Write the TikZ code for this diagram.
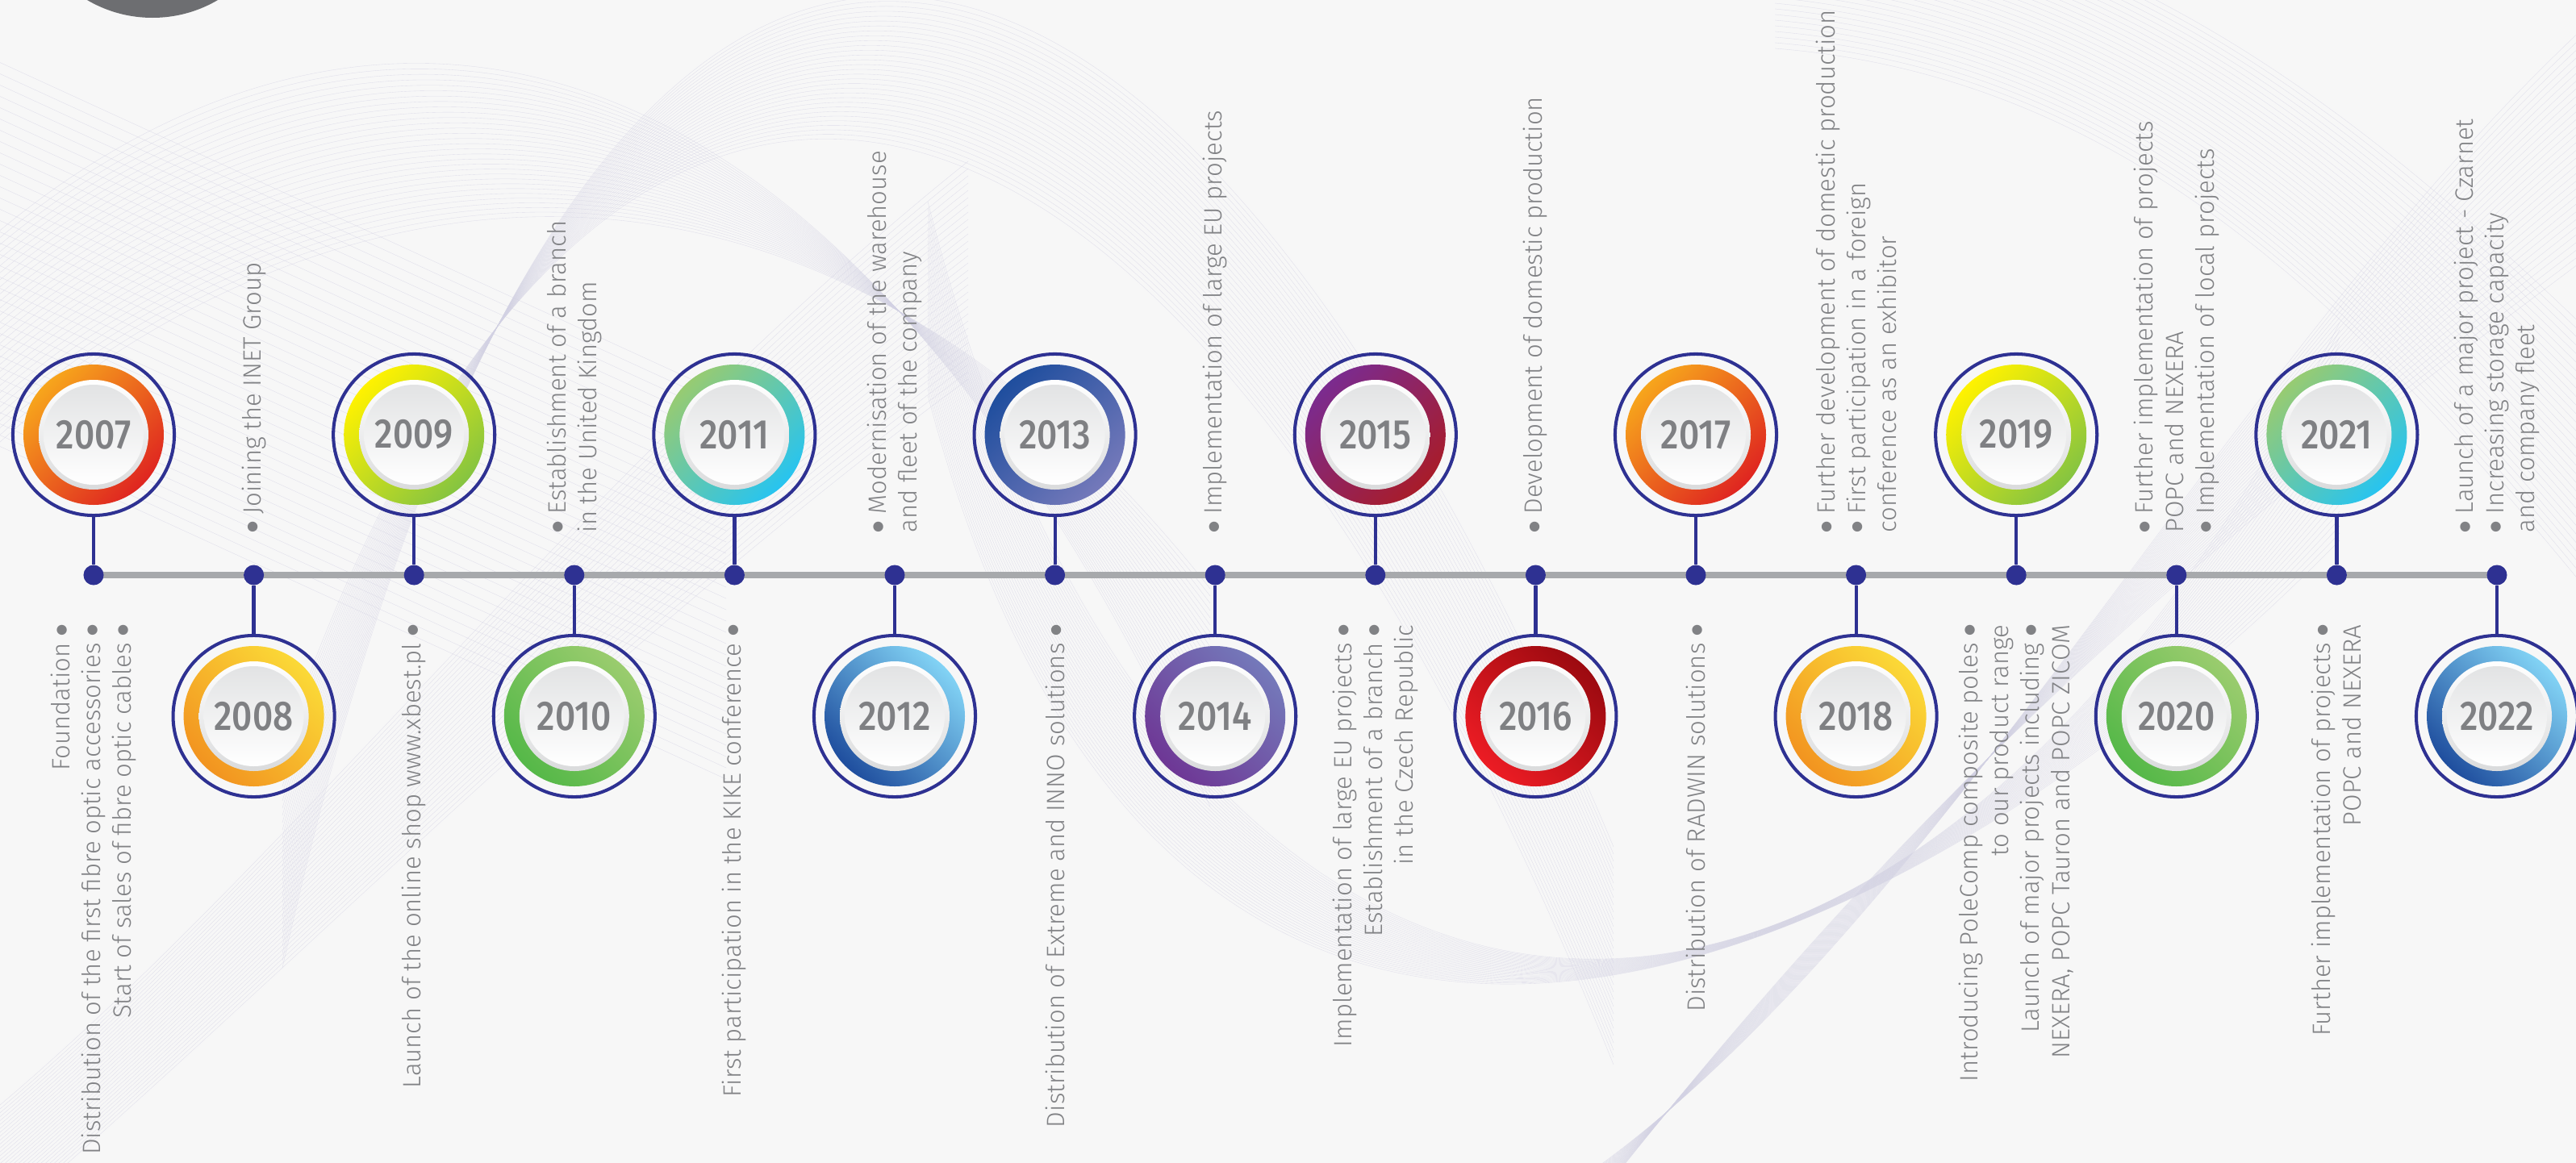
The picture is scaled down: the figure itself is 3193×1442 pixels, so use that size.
\documentclass[tikz,border=0pt]{standalone}
\usepackage{fontspec}
\setmainfont{Fira Sans Light}
\newfontfamily\yearfont{Fira Sans Medium}
\newfontfamily\symfont{DejaVu Sans}
\usepackage{graphicx}
\pgfdeclarelayer{back}
\pgfdeclarelayer{mid}
\pgfsetlayers{back,mid,main}

\definecolor{navy}{HTML}{2E3192}
\definecolor{linegray}{HTML}{A7A9AC}
\definecolor{txtgray}{HTML}{818285}
\definecolor{yeargray}{HTML}{7F8083}
\definecolor{bgc}{HTML}{F7F7F7}
\definecolor{wavec}{HTML}{D2D1E3}
\definecolor{knobc}{HTML}{6D6E71}
\definecolor{bevB}{HTML}{DADBDC}
\definecolor{bevT}{HTML}{E2E3E4}
% ring colours
\definecolor{orA}{HTML}{F7A51C}\definecolor{orB}{HTML}{DF2520}
\definecolor{yoA}{HTML}{FBD937}\definecolor{yoB}{HTML}{F29420}
\definecolor{ygA}{HTML}{FFF200}\definecolor{ygB}{HTML}{85C441}
\definecolor{grA}{HTML}{9ACC6E}\definecolor{grB}{HTML}{55B848}
\definecolor{gcA}{HTML}{97CB72}\definecolor{gcB}{HTML}{27C4F0}
\definecolor{lbA}{HTML}{82D3F5}\definecolor{lbB}{HTML}{1F4E9E}
\definecolor{dbA}{HTML}{1F4E9E}\definecolor{dbB}{HTML}{7479BA}
\definecolor{puA}{HTML}{7479BA}\definecolor{puB}{HTML}{6E3795}
\definecolor{prA}{HTML}{7B2B8F}\definecolor{prB}{HTML}{A81C2A}
\definecolor{rdA}{HTML}{9C0A10}\definecolor{rdB}{HTML}{EC1C24}

\newcommand{\bul}{\raisebox{0.35ex}{\symfont\fontsize{4.6}{5}\selectfont ●}}

\tikzset{
  x=0.01cm, y=-0.01cm,
  tdot/.style={circle, fill=navy, inner sep=0pt, minimum size=0.25cm},
  msring/.style={circle, draw=navy, line width=1.15pt, minimum size=2cm, inner sep=0pt, outer sep=0pt},
  msstem/.style={navy, line width=1.2pt},
  tline/.style={draw=linegray, line width=2pt},
  yearlbl/.style={font=\yearfont\fontsize{14.6}{15}\selectfont, text=yeargray, inner sep=0pt},
  textup/.style={rotate=90, anchor=west, align=left, inner sep=0pt, font=\fontsize{8.85}{10.8}\selectfont, text=txtgray},
  textdown/.style={rotate=90, anchor=east, align=right, inner sep=0pt, font=\fontsize{8.85}{10.8}\selectfont, text=txtgray},
  wave/.style={draw=wavec, line width=0.1pt, opacity=0.65},
}

% #1 year, #2 x, #3 circle centre y, #4 colour A, #5 colour B, #6 shading angle
\newcommand{\milestone}[6]{%
  \node[tdot] (d#1) at (#2,713) {};
  \shade[top color=#4, bottom color=#5, shading angle=#6] (#2,#3) circle[radius=87];
  \shade[top color=white, bottom color=bevB] (#2,#3) circle[radius=68];
  \shade[top color=bevT, bottom color=white] (#2,#3) circle[radius=62];
  \node[msring] (c#1) at (#2,#3) {};
  \node[yearlbl] (y#1) at (c#1.center) {\scalebox{0.86}[1]{#1}};
  \draw[msstem] (c#1) -- (d#1);
}

\begin{document}
\begin{tikzpicture}
\useasboundingbox (0,0) rectangle (3193,1442);

\begin{pgfonlayer}{back}
\fill[bgc] (0,0) rectangle (3193,1442);
\begin{scope}
\clip (0,0) rectangle (3193,1442);
\foreach \t in {0,...,34}{
  \draw[wave] (-300,-60+14*\t) -- (900,490+14*\t);
}
\foreach \t in {0,...,30}{
  \draw[wave] (-100,380+9*\t) .. controls (200,60+8*\t) and (900,-300+9*\t) .. (1500,1000-9*\t);
  \draw[wave] (350,1200-9*\t) .. controls (700,-380+9*\t) and (1400,-380+7*\t) .. (2000,1050+9*\t);
  \draw[wave] (1150,250+8*\t) .. controls (1450,1450+6*\t) and (2350,1500-9*\t) .. (2900,400+9*\t);
  \draw[wave] (1900,1500+3*\t) .. controls (2400,1200-9*\t) and (2800,350+9*\t) .. (3300,-50+10*\t);
  \draw[wave] (2200,-150+7*\t) .. controls (2700,-80+6*\t) and (3000,200+9*\t) .. (3350,550+12*\t);
  \draw[wave] (-100,1450+5*\t) .. controls (300,1150+4*\t) and (700,600+8*\t) .. (1200,200+9*\t);
}
\end{scope}
\fill[knobc] (189,-138) circle[radius=160];
\end{pgfonlayer}

% milestones: circles above (odd years) and below (even years)
\milestone{2007}{116}{539}{orA}{orB}{45}
\milestone{2008}{314.6}{888}{yoA}{yoB}{-45}
\milestone{2009}{513.2}{539}{ygA}{ygB}{45}
\milestone{2010}{711.8}{888}{grA}{grB}{-45}
\milestone{2011}{910.4}{539}{gcA}{gcB}{45}
\milestone{2012}{1109}{888}{lbA}{lbB}{-45}
\milestone{2013}{1307.6}{539}{dbA}{dbB}{45}
\milestone{2014}{1506.2}{888}{puA}{puB}{-45}
\milestone{2015}{1704.8}{539}{prA}{prB}{45}
\milestone{2016}{1903.4}{888}{rdA}{rdB}{-45}
\milestone{2017}{2102}{539}{orA}{orB}{45}
\milestone{2018}{2300.6}{888}{yoA}{yoB}{-45}
\milestone{2019}{2499.2}{539}{ygA}{ygB}{45}
\milestone{2020}{2697.8}{888}{grA}{grB}{-45}
\milestone{2021}{2896.4}{539}{gcA}{gcB}{45}
\milestone{2022}{3095}{888}{lbA}{lbB}{-45}

\begin{pgfonlayer}{mid}
\draw[tline] (d2007.center) -- (d2022.center);
\end{pgfonlayer}

% texts below the line
\node[textdown] (n2007) at (116,774) {Foundation \bul\\Distribution of the first fibre optic accessories \bul\\Start of sales of fibre optic cables \bul};
\node[textdown] (n2009) at (513.2,774) {Launch of the online shop www.xbest.pl \bul};
\node[textdown] (n2011) at (910.4,774) {First participation in the KIKE conference \bul};
\node[textdown] (n2013) at (1307.6,774) {Distribution of Extreme and INNO solutions \bul};
\node[textdown] (n2015) at (1704.8,774) {Implementation of large EU projects \bul\\Establishment of a branch \bul\\in the Czech Republic};
\node[textdown] (n2017) at (2102,774) {Distribution of RADWIN solutions \bul};
\node[textdown] (n2019) at (2499.2,774) {Introducing PoleComp composite poles \bul\\to our product range\\Launch of major projects including \bul\\NEXERA, POPC Tauron and POPC ZICOM};
\node[textdown] (n2021) at (2896.4,774) {Further implementation of projects \bul\\POPC and NEXERA};

% texts above the line
\node[textup] (n2008) at (314.6,661) {\bul\ Joining the INET Group};
\node[textup] (n2010) at (711.8,661) {\bul\ Establishment of a branch\\in the United Kingdom};
\node[textup] (n2012) at (1109,661) {\bul\ Modernisation of the warehouse\\and fleet of the company};
\node[textup] (n2014) at (1506.2,661) {\bul\ Implementation of large EU projects};
\node[textup] (n2016) at (1903.4,661) {\bul\ Development of domestic production};
\node[textup] (n2018) at (2300.6,661) {\bul\ Further development of domestic production\\\bul\ First participation in a foreign\\conference as an exhibitor};
\node[textup] (n2020) at (2697.8,661) {\bul\ Further implementation of projects\\POPC and NEXERA\\\bul\ Implementation of local projects};
\node[textup] (n2022) at (3095,661) {\bul\ Launch of a major project - Czarnet\\\bul\ Increasing storage capacity\\and company fleet};
\end{tikzpicture}
\end{document}
